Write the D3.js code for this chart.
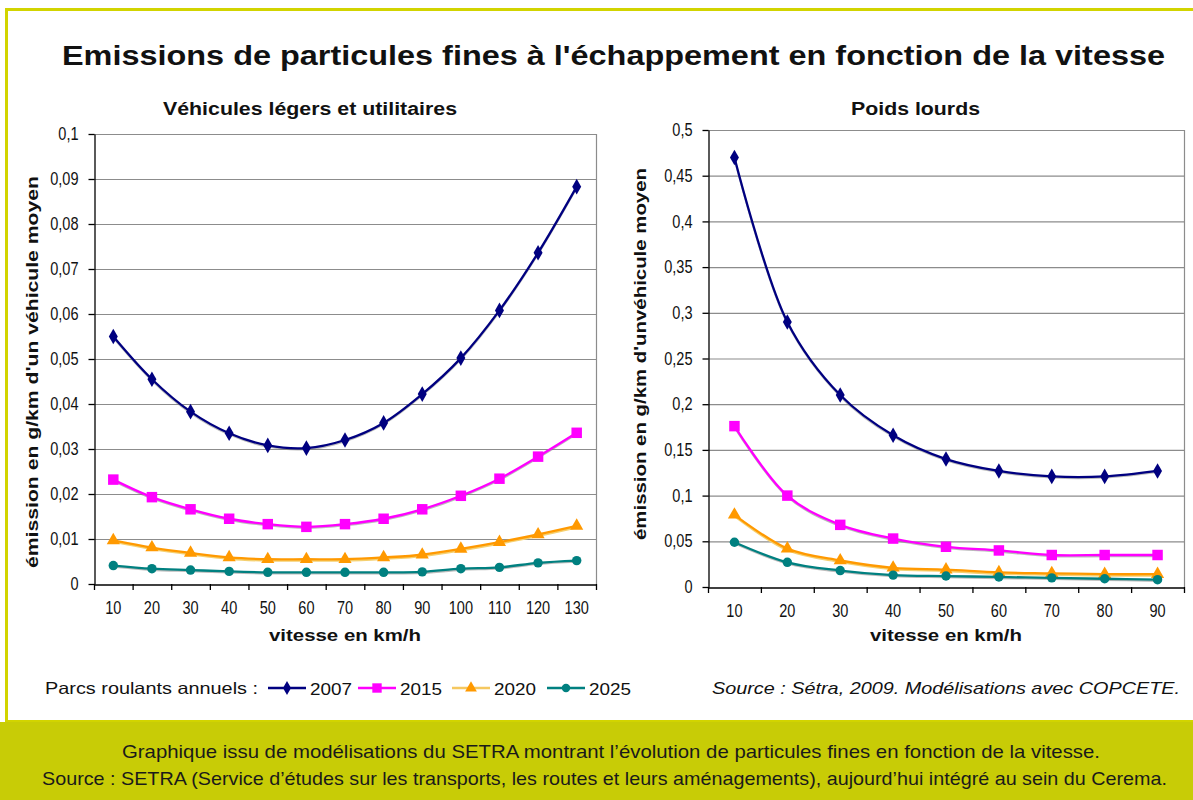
<!DOCTYPE html>
<html><head><meta charset="utf-8">
<script src="https://cdn.jsdelivr.net/npm/d3@7"></script>
<style>
html,body{margin:0;padding:0;background:#fff;}
text{font-family:"Liberation Sans",Arial,sans-serif;}
</style></head>
<body><svg id="c" width="1193" height="800"></svg>
<script>
// ---- data ----
const speedsLight = [10,20,30,40,50,60,70,80,90,100,110,120,130];
const light2007 = [0.0550,0.0455,0.0383,0.0335,0.0308,0.0302,0.0320,0.0358,0.0422,0.0502,0.0608,0.0736,0.0883];
const light2015 = [0.0232,0.0193,0.0166,0.0145,0.0133,0.0127,0.0133,0.0145,0.0166,0.0196,0.0234,0.0283,0.0336];
const light2020 = [0.0097,0.0081,0.0069,0.0059,0.0055,0.0055,0.0055,0.0059,0.0065,0.0078,0.0093,0.0110,0.0129];
const light2025 = [0.0041,0.0034,0.0031,0.0028,0.0026,0.0026,0.0026,0.0026,0.0027,0.0034,0.0037,0.0047,0.0052];

const speedsHeavy = [10,20,30,40,50,60,70,80,90];
const heavy2007 = [0.470,0.290,0.210,0.166,0.140,0.127,0.121,0.121,0.127];
const heavy2015 = [0.176,0.100,0.068,0.053,0.044,0.040,0.035,0.035,0.035];
const heavy2020 = [0.079,0.042,0.029,0.021,0.019,0.016,0.015,0.014,0.014];
const heavy2025 = [0.049,0.027,0.018,0.013,0.012,0.011,0.010,0.009,0.008];

const years = ["2007","2015","2020","2025"];
const colors = ["#000080","#FF00FF","#FF9900","#008080"];
const markers = ["diamond","square","triangle","circle"];
const yTicksLight = [0,0.01,0.02,0.03,0.04,0.05,0.06,0.07,0.08,0.09,0.1];
const yTicksHeavy = [0,0.05,0.1,0.15,0.2,0.25,0.3,0.35,0.4,0.45,0.5];

const svg = d3.select("#c");
const comma = v => String(+v.toFixed(3)).replace(".", ",");

// frame
svg.append("rect").attr("x",6.5).attr("y",9.5).attr("width",1193).attr("height",712)
  .attr("fill","none").attr("stroke","#d2d400").attr("stroke-width",3);
svg.append("rect").attr("x",0).attr("y",722).attr("width",1193).attr("height",78).attr("fill","#c8cc06");

function fitText(sel, len){ sel.attr("textLength",len).attr("lengthAdjust","spacingAndGlyphs"); return sel; }
function squeeze(sel, f){ sel.each(function(){ const w=this.getComputedTextLength(); d3.select(this).attr("textLength",w*f).attr("lengthAdjust","spacingAndGlyphs"); }); }

// title
fitText(svg.append("text").attr("x",62).attr("y",65).attr("font-size",27.5).attr("font-weight","bold").attr("fill","#111")
  .text("Emissions de particules fines à l'échappement en fonction de la vitesse"),1103);

function markerPath(type, size){
  const t = {diamond:d3.symbolDiamond, square:d3.symbolSquare, triangle:d3.symbolTriangle, circle:d3.symbolCircle}[type];
  return d3.symbol().type(t).size(size)();
}
const markerSize = {diamond:70, square:110, triangle:75, circle:70};

function panel(cfg){
  const g = svg.append("g");
  const x = d3.scaleBand().domain(cfg.cats).range([cfg.x0,cfg.x1]);
  const y = d3.scaleLinear().domain([0,cfg.ymax]).range([cfg.y0,cfg.y1]);
  // gridlines
  g.selectAll(".grid").data(cfg.yticks.slice(1)).join("line")
    .attr("x1",cfg.x0).attr("x2",cfg.x1).attr("y1",d=>y(d)+0.5).attr("y2",d=>y(d)+0.5)
    .attr("stroke","#8c8c8c").attr("stroke-width",1.2);
  g.append("line").attr("x1",cfg.x1+0.5).attr("x2",cfg.x1+0.5).attr("y1",cfg.y1).attr("y2",cfg.y0)
    .attr("stroke","#8c8c8c").attr("stroke-width",1.2);
  // y axis
  const ya = g.append("g").attr("transform",`translate(${cfg.x0+0.5},0)`)
    .call(d3.axisLeft(y).tickValues(cfg.yticks).tickFormat(comma).tickSize(6).tickPadding(10).tickSizeOuter(0));
  ya.select(".domain").attr("stroke","#000").attr("stroke-width",1.3);
  ya.selectAll("line").attr("stroke","#000").attr("stroke-width",1.3);
  ya.selectAll("text").attr("font-size",17.5).attr("fill","#111").attr("font-family","Liberation Sans, Arial");
  squeeze(ya.selectAll("text"),0.83);
  // x axis
  const xa = g.append("g").attr("transform",`translate(0,${cfg.y0+0.5})`)
    .call(d3.axisBottom(x).tickSize(0).tickPadding(17));
  xa.select(".domain").attr("stroke","#000").attr("stroke-width",1.3);
  xa.selectAll("text").attr("font-size",17.5).attr("fill","#111").attr("font-family","Liberation Sans, Arial");
  squeeze(xa.selectAll("text"),0.83);
  // ticks between categories
  const bounds = cfg.cats.map(c=>x(c)).concat([cfg.x1]);
  g.selectAll(".xt").data(bounds).join("line")
    .attr("x1",d=>d+0.5).attr("x2",d=>d+0.5).attr("y1",cfg.y0).attr("y2",cfg.y0+6)
    .attr("stroke","#000").attr("stroke-width",1.3);
  // series
  cfg.series.forEach((vals,i)=>{
    const pts = vals.map((v,j)=>[x(cfg.cats[j])+x.bandwidth()/2, y(v)]);
    const line = d3.line().curve(d3.curveCatmullRom.alpha(0.5));
    if(i===2){
      g.append("path").attr("d",line(pts.map(p=>[p[0],p[1]+1.5]))).attr("fill","none").attr("stroke","#f5d070").attr("stroke-width",2);
    } else {
      g.append("path").attr("d",line(pts.map(p=>[p[0],p[1]+1.2]))).attr("fill","none").attr("stroke","#777").attr("stroke-opacity",0.5).attr("stroke-width",2);
    }
    g.append("path").attr("d",line(pts)).attr("fill","none").attr("stroke",colors[i]).attr("stroke-width",2.3);
    g.selectAll(".m"+i).data(pts).join("path")
      .attr("transform",p=>`translate(${p[0]},${p[1]})`)
      .attr("d",markerPath(markers[i],markerSize[markers[i]])).attr("fill",colors[i]);
  });
  // titles
  fitText(svg.append("text").attr("x",cfg.subX).attr("y",115).attr("font-size",17.5).attr("font-weight","bold").attr("fill","#111")
    .text(cfg.sub), cfg.subLen);
  fitText(svg.append("text").attr("x",(cfg.x0+cfg.x1)/2-152/2).attr("y",641).attr("font-size",16.5).attr("font-weight","bold").attr("fill","#111")
    .text("vitesse en km/h"), 152);
  fitText(svg.append("text").attr("transform",`translate(${cfg.ytX},${cfg.ytY}) rotate(-90)`)
    .attr("x",0).attr("y",0).attr("font-size",17).attr("font-weight","bold").attr("fill","#111")
    .text(cfg.ytitle), cfg.ytLen);
}

panel({cats:speedsLight, series:[light2007,light2015,light2020,light2025], x0:94, x1:596, y0:584, y1:134, ymax:0.1,
  yticks:yTicksLight, sub:"Véhicules légers et utilitaires", subX:163, subLen:294,
  ytitle:"émission en g/km d'un véhicule moyen", ytX:38, ytY:568, ytLen:392});
panel({cats:speedsHeavy, series:[heavy2007,heavy2015,heavy2020,heavy2025], x0:708, x1:1184, y0:587, y1:130, ymax:0.5,
  yticks:yTicksHeavy, sub:"Poids lourds", subX:851, subLen:129,
  ytitle:"émission en g/km d'unvéhicule moyen", ytX:646, ytY:540, ytLen:372});

// legend
fitText(svg.append("text").attr("x",45).attr("y",694).attr("font-size",16.5).attr("fill","#111").text("Parcs roulants annuels :"),213);
const legX = [268,358,452,547];
const legend = svg.append("g");
years.forEach((yr,i)=>{
  const lx = legX[i];
  legend.append("line").attr("x1",lx).attr("x2",lx+38).attr("y1",688).attr("y2",688)
    .attr("stroke", i===2 ? "#f5c860" : colors[i]).attr("stroke-width",2.3);
  legend.append("path").attr("transform",`translate(${lx+19},688)`).attr("d",markerPath(markers[i],markerSize[markers[i]]*0.8)).attr("fill",colors[i]);
  fitText(legend.append("text").attr("x",lx+42).attr("y",695).attr("font-size",16.5).attr("fill","#111").text(yr),42);
});
fitText(svg.append("text").attr("x",712).attr("y",694).attr("font-size",16.5).attr("font-style","italic").attr("fill","#111")
  .text("Source : Sétra, 2009. Modélisations avec COPCETE."),468);

// caption
fitText(svg.append("text").attr("x",122).attr("y",758).attr("font-size",19).attr("fill","#1a1a1a").attr("font-family","Liberation Sans Narrow, Liberation Sans, Arial")
  .text("Graphique issu de modélisations du SETRA montrant l’évolution de particules fines en fonction de la vitesse."),978);
fitText(svg.append("text").attr("x",42).attr("y",785).attr("font-size",19).attr("fill","#1a1a1a").attr("font-family","Liberation Sans Narrow, Liberation Sans, Arial")
  .text("Source : SETRA (Service d’études sur les transports, les routes et leurs aménagements), aujourd’hui intégré au sein du Cerema."),1125);
</script></body></html>
